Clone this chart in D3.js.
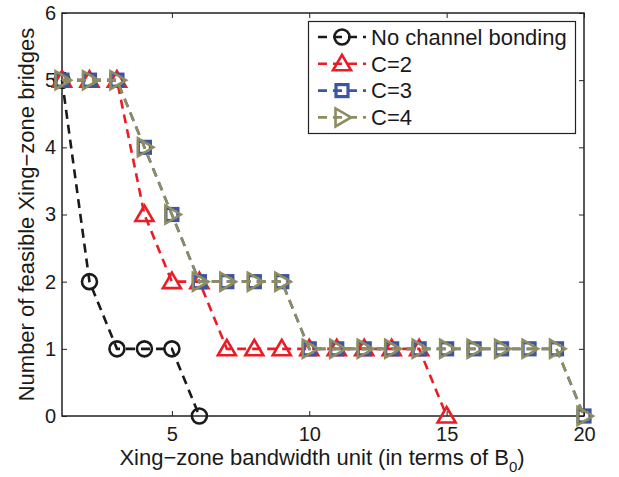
<!DOCTYPE html>
<html>
<head>
<meta charset="utf-8">
<script src="https://cdn.jsdelivr.net/npm/d3@7"></script>
<style>
  html, body { margin: 0; padding: 0; background: #fff; }
  svg { display: block; font-family: "Liberation Sans", Arial, Helvetica, sans-serif; }
</style>
</head>
<body>
<svg id="chart" width="619" height="477"></svg>
<script>
// Feasible bridge counts per bandwidth unit
const xNoBond = [1, 2, 3, 4, 5, 6];
const yNoBond = [5, 2, 1, 1, 1, 0];
const xC2 = [1, 2, 3, 4, 5, 6, 7, 8, 9, 10, 11, 12, 13, 14, 15];
const yC2 = [5, 5, 5, 3, 2, 2, 1, 1, 1, 1, 1, 1, 1, 1, 0];
const xC3 = [1, 2, 3, 4, 5, 6, 7, 8, 9, 10, 11, 12, 13, 14, 15, 16, 17, 18, 19, 20];
const yC3 = [5, 5, 5, 4, 3, 2, 2, 2, 2, 1, 1, 1, 1, 1, 1, 1, 1, 1, 1, 0];
const xC4 = [1, 2, 3, 4, 5, 6, 7, 8, 9, 10, 11, 12, 13, 14, 15, 16, 17, 18, 19, 20];
const yC4 = [5, 5, 5, 4, 3, 2, 2, 2, 2, 1, 1, 1, 1, 1, 1, 1, 1, 1, 1, 0];
const seriesNames = ["No channel bonding", "C=2", "C=3", "C=4"];
const xTicks = [5, 10, 15, 20];
const yTicks = [0, 1, 2, 3, 4, 5, 6];

const svg = d3.select("#chart");
const L = 62, R = 584, T = 13, B = 416;
const x = d3.scaleLinear().domain([1, 20]).range([L, R]);
const y = d3.scaleLinear().domain([0, 6]).range([B, T]);

const series = [
  { name: seriesNames[0], xs: xNoBond, ys: yNoBond, color: "#1a1a1a", marker: "circle" },
  { name: seriesNames[1], xs: xC2, ys: yC2, color: "#ec1c24", marker: "triUp" },
  { name: seriesNames[2], xs: xC3, ys: yC3, color: "#3a56a5", marker: "square" },
  { name: seriesNames[3], xs: xC4, ys: yC4, color: "#8f8d60", marker: "triRight" }
];

// Axes box with inward ticks on all sides
const axisColor = "#222";
const tickLen = 5;
const axisFont = 20;
const gAxes = svg.append("g");

const axBottom = d3.axisBottom(x).tickValues(xTicks).tickSizeInner(-tickLen).tickSizeOuter(0)
  .tickPadding(11).tickFormat(d3.format("d"));
const axTop = d3.axisTop(x).tickValues(xTicks).tickSizeInner(-tickLen).tickSizeOuter(0).tickFormat("");
const axLeft = d3.axisLeft(y).tickValues(yTicks).tickSizeInner(-tickLen).tickSizeOuter(0)
  .tickPadding(6).tickFormat(d3.format("d"));
const axRight = d3.axisRight(y).tickValues(yTicks).tickSizeInner(-tickLen).tickSizeOuter(0).tickFormat("");

function styleAxis(g) {
  g.select(".domain").remove();
  g.selectAll(".tick line").attr("stroke", axisColor).attr("stroke-width", 1);
  g.selectAll(".tick text").attr("fill", "#1a1a1a").style("font-size", axisFont + "px")
    .style("font-family", "'Liberation Sans', Arial, Helvetica, sans-serif");
}
gAxes.append("g").attr("transform", `translate(0,${B})`).call(axBottom).call(styleAxis);
gAxes.append("g").attr("transform", `translate(0,${T})`).call(axTop).call(styleAxis);
gAxes.append("g").attr("transform", `translate(${L},0)`).call(axLeft).call(styleAxis);
gAxes.append("g").attr("transform", `translate(${R},0)`).call(axRight).call(styleAxis);

gAxes.append("rect")
  .attr("x", L).attr("y", T).attr("width", R - L).attr("height", B - T)
  .attr("fill", "none").attr("stroke", axisColor).attr("stroke-width", 1.5);

// Marker shapes
function drawMarker(g, type, cx, cy, color) {
  const sw = 2.6;
  if (type === "circle") {
    g.append("circle").attr("cx", cx).attr("cy", cy).attr("r", 7.5)
      .attr("fill", "none").attr("stroke", color).attr("stroke-width", sw);
  } else if (type === "triUp") {
    const h = 9;
    g.append("path")
      .attr("d", `M${cx},${cy - h} L${cx + h},${cy + h * 0.72} L${cx - h},${cy + h * 0.72} Z`)
      .attr("fill", "none").attr("stroke", color).attr("stroke-width", sw).attr("stroke-linejoin", "miter");
  } else if (type === "square") {
    const s = 6;
    g.append("rect").attr("x", cx - s).attr("y", cy - s).attr("width", 2 * s).attr("height", 2 * s)
      .attr("fill", "none").attr("stroke", color).attr("stroke-width", sw + 0.6);
  } else if (type === "triRight") {
    const h = 9;
    g.append("path")
      .attr("d", `M${cx + h},${cy} L${cx - h * 0.72},${cy - h} L${cx - h * 0.72},${cy + h} Z`)
      .attr("fill", "none").attr("stroke", color).attr("stroke-width", sw).attr("stroke-linejoin", "miter");
  }
}

const line = d3.line().x(d => x(d[0])).y(d => y(d[1]));
const gData = svg.append("g");
series.forEach(s => {
  const pts = s.xs.map((v, i) => [v, s.ys[i]]);
  const g = gData.append("g");
  g.append("path").datum(pts).attr("d", line)
    .attr("fill", "none").attr("stroke", s.color).attr("stroke-width", 2.6)
    .attr("stroke-dasharray", "9,6");
  pts.forEach(p => drawMarker(g, s.marker, x(p[0]), y(p[1]), s.color));
});

// Legend
const lg = svg.append("g");
lg.append("rect").attr("x", 308.5).attr("y", 21.5).attr("width", 267).attr("height", 112)
  .attr("fill", "#fff").attr("stroke", axisColor).attr("stroke-width", 1.2);
series.forEach((s, i) => {
  const ry = 37 + i * 26.8;
  const g = lg.append("g");
  g.append("line").attr("x1", 318).attr("x2", 366).attr("y1", ry).attr("y2", ry)
    .attr("stroke", s.color).attr("stroke-width", 2.6).attr("stroke-dasharray", "9,6");
  drawMarker(g, s.marker, 342, ry, s.color);
  g.append("text").attr("x", 371).attr("y", ry).attr("dy", "0.35em")
    .attr("fill", "#1a1a1a").style("font-size", "22px").text(s.name);
});

// Axis titles
const xt = svg.append("text").attr("x", 322).attr("y", 465).attr("text-anchor", "middle")
  .attr("fill", "#1a1a1a").style("font-size", "22px");
xt.append("tspan").text("Xing\u2212zone bandwidth unit (in terms of B");
xt.append("tspan").attr("dy", 7).style("font-size", "15px").text("0");
xt.append("tspan").attr("dy", -7).text(")");

svg.append("text").attr("transform", `translate(34,${(T + B) / 2}) rotate(-90)`)
  .attr("text-anchor", "middle").attr("fill", "#1a1a1a").style("font-size", "22px")
  .text("Number of feasible Xing\u2212zone bridges");
</script>
</body>
</html>
